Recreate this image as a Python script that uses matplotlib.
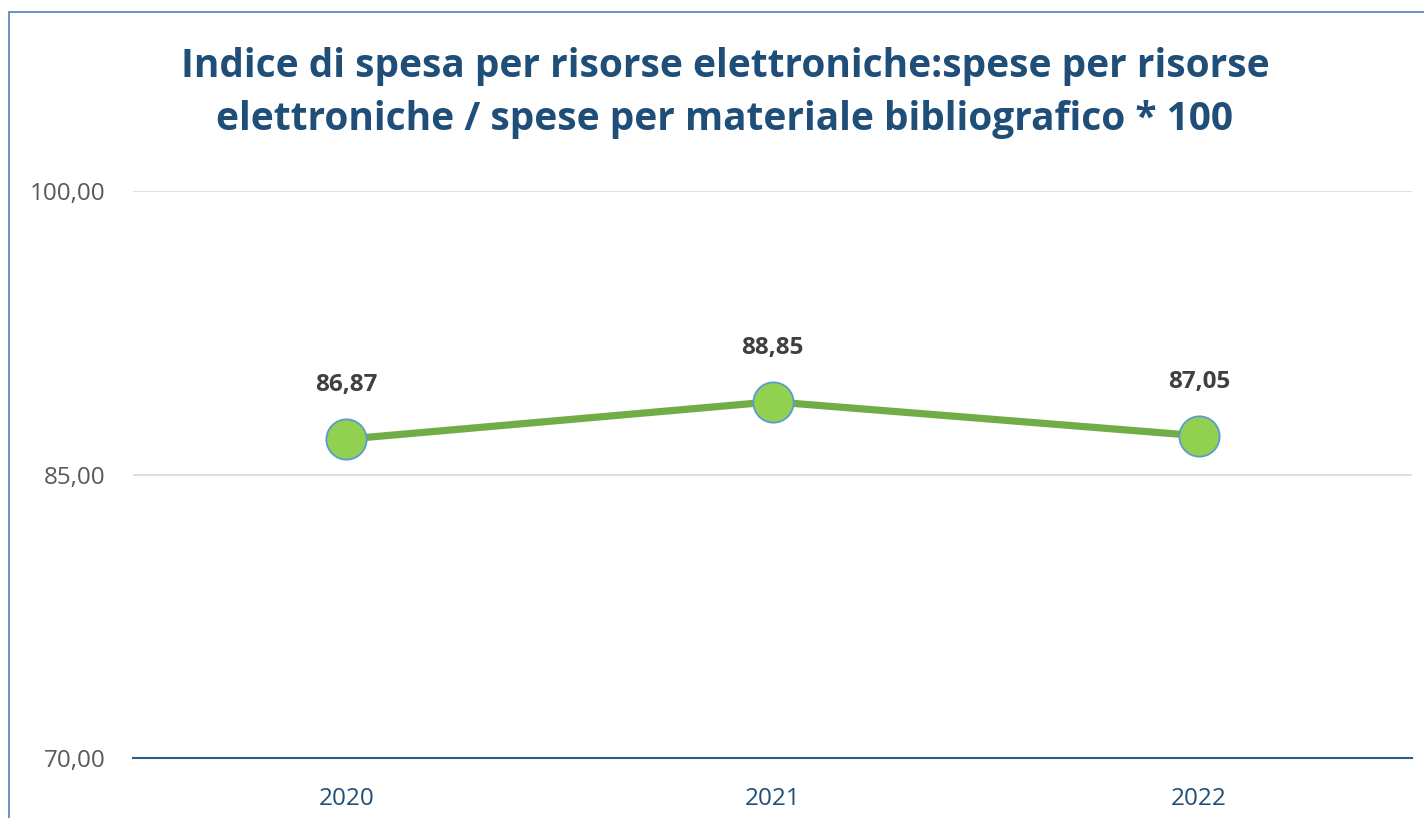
import matplotlib.pyplot as plt
from matplotlib.patches import Rectangle

# Data
anni = ['2020', '2021', '2022']
indice = [86.87, 88.85, 87.05]
yticks = [70, 85, 100]

fig = plt.figure(figsize=(14.24, 8.18), dpi=100)
ax = fig.add_axes([133/1424, 1 - 758/818, (1412-133)/1424, (758-191)/818])

x = range(len(anni))
ax.plot(x, indice, color='#70ad47', linewidth=5.2, marker='o', markersize=29,
        markerfacecolor='#92d050', markeredgecolor='#5b9bd5', markeredgewidth=1.3,
        solid_capstyle='round', zorder=3)

for xi, v in zip(x, indice):
    ax.annotate(f"{v:.2f}".replace('.', ','), (xi, v), xytext=(0, 39),
                textcoords='offset points', ha='center', va='center',
                fontsize=17.5, fontweight='bold', color='#404040', family='Open Sans')

ax.set_xlim(-0.5, 2.5)
ax.set_ylim(70, 100)
ax.set_yticks(yticks)
ax.set_yticklabels([f"{t:.2f}".replace('.', ',') for t in yticks],
                   fontsize=17.5, color='#595959', family='Open Sans')
ax.set_xticks(list(x))
ax.set_xticklabels(anni, fontsize=17.5, color='#1f4e79', family='Open Sans')
ax.tick_params(length=0)
ax.tick_params(axis='x', pad=21)
ax.tick_params(axis='y', pad=20)

ax.grid(axis='y', color='#d9d9d9', linewidth=1.2)
ax.set_axisbelow(True)
for s in ['top', 'right', 'left']:
    ax.spines[s].set_visible(False)
ax.spines['bottom'].set_color('#2e5f8a')
ax.spines['bottom'].set_linewidth(1.5)
ax.spines['bottom'].set_zorder(2)

fig.text(0.509, 1 - 93/818,
         "Indice di spesa per risorse elettroniche:spese per risorse\n"
         "elettroniche / spese per materiale bibliografico * 100",
         ha='center', va='center', fontsize=28, fontweight='bold',
         color='#1f4e79', family='Open Sans', linespacing=1.45)

# Chart border (left and top visible, rest cropped)
fig.patches.append(Rectangle((9/1424, -0.1), 1.2, 1 - 12/818 + 0.1,
                             transform=fig.transFigure, fill=False,
                             edgecolor='#4f81bd', linewidth=1.2))

fig.savefig('out.png', dpi=100)
